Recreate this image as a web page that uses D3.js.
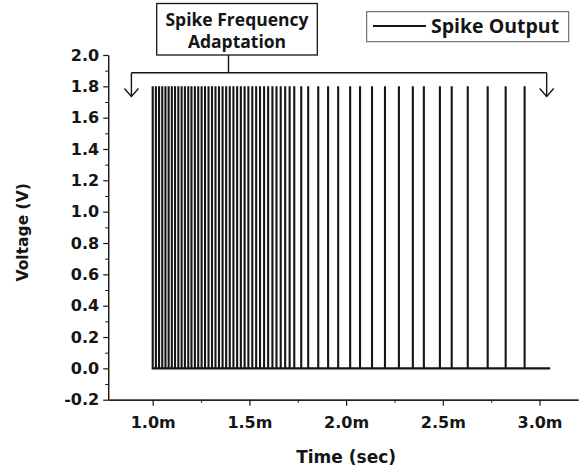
<!DOCTYPE html>
<html><head><meta charset="utf-8">
<script src="https://cdn.jsdelivr.net/npm/d3@7"></script>
<style>body{margin:0;background:#fff}svg{display:block}</style>
</head><body>
<svg id="c" width="582" height="469"></svg>
<script>
// Spike times (ms)
const spikeTimes = [1.000,1.0165,1.033,1.0495,1.066,1.0825,1.099,1.1155,1.1325,1.1495,1.1665,1.184,1.2005,1.218,1.2356,1.253,1.2706,1.2887,1.3067,1.3247,1.3428,1.3613,1.3799,1.3985,1.4175,1.4366,1.4557,1.4753,1.4948,1.515,1.535,1.555,1.576,1.597,1.619,1.640,1.662,1.685,1.708,1.732,1.768,1.804,1.856,1.907,1.959,2.021,2.072,2.134,2.201,2.273,2.345,2.402,2.485,2.546,2.629,2.732,2.825,2.923];
const spikeHigh = 1.8;
const restLevel = 0.0;
const traceStart = 1.0, traceEnd = 3.055;
const xTicks = [1.0,1.5,2.0,2.5,3.0];
const xMinor = [1.25,1.75,2.25,2.75];
const yTicks = [-0.2,0.0,0.2,0.4,0.6,0.8,1.0,1.2,1.4,1.6,1.8,2.0];
const yMinor = [-0.1,0.1,0.3,0.5,0.7,0.9,1.1,1.3,1.5,1.7,1.9];
const legendLabel = "Spike Output";
const annotationLines = ["Spike Frequency","Adaptation"];
const bracket = {x0:0.89, x1:3.037, yBar:1.887, yTip:1.735};

const svg = d3.select("#c");
const x = d3.scaleLinear().domain([0.77,3.2]).range([108.2,578.2]);
const y = d3.scaleLinear().domain([-0.2,2.0]).range([399.7,55]);
const ink = "#151515";
const font = "'DejaVu Sans', sans-serif";

// trace
const pts = [[traceStart,restLevel]];
spikeTimes.forEach(t=>{pts.push([t,restLevel],[t,spikeHigh],[t,restLevel]);});
pts.push([traceEnd,restLevel]);
svg.append("path").datum(pts)
  .attr("d", d3.line().x(d=>x(d[0])).y(d=>y(d[1])))
  .attr("fill","none").attr("stroke",ink).attr("stroke-width",2.1);

// y axis
const ya = svg.append("g").attr("transform",`translate(${x(0.77)},0)`)
  .call(d3.axisLeft(y).tickValues(yTicks).tickFormat(d=>d.toFixed(1)).tickSize(5).tickSizeOuter(0));
ya.selectAll("path,line").attr("stroke",ink).attr("stroke-width",1.2);
ya.selectAll("text").attr("font-family",font).attr("font-weight","bold").attr("font-size",16).attr("fill",ink).attr("dx","-1");
svg.append("g").attr("transform",`translate(${x(0.77)},0)`)
  .call(d3.axisLeft(y).tickValues(yMinor).tickFormat("").tickSize(3).tickSizeOuter(0))
  .selectAll("path,line").attr("stroke",ink).attr("stroke-width",1);

// x axis
const xa = svg.append("g").attr("transform",`translate(0,${y(-0.2)})`)
  .call(d3.axisBottom(x).tickValues(xTicks).tickFormat(d=>d.toFixed(1)+"m").tickSize(6).tickSizeOuter(0));
xa.selectAll("path,line").attr("stroke",ink).attr("stroke-width",1.2);
xa.selectAll("text").attr("font-family",font).attr("font-weight","bold").attr("font-size",16).attr("fill",ink).attr("dy","1.2em");
svg.append("g").attr("transform",`translate(0,${y(-0.2)})`)
  .call(d3.axisBottom(x).tickValues(xMinor).tickFormat("").tickSize(3).tickSizeOuter(0))
  .selectAll("path,line").attr("stroke",ink).attr("stroke-width",1);

// axis titles
svg.append("text").attr("x",(x(1.0)+x(3.0))/2).attr("y",463)
  .attr("text-anchor","middle").attr("font-family",font).attr("font-weight","bold").attr("font-size",17).attr("fill",ink).text("Time (sec)");
svg.append("text").attr("transform",`translate(28,${(y(-0.2)+y(2.0))/2+5}) rotate(-90)`)
  .attr("text-anchor","middle").attr("font-family",font).attr("font-weight","bold").attr("font-size",15.5).attr("fill",ink).text("Voltage (V)");

// annotation box
const bx0=156.7, by0=3.5, bw=160.6, bh=51.5;
svg.append("rect").attr("x",bx0).attr("y",by0).attr("width",bw).attr("height",bh)
  .attr("fill","#fff").attr("stroke",ink).attr("stroke-width",1.3);
annotationLines.forEach((s,i)=>{
  svg.append("text").attr("x",bx0+bw/2).attr("y",by0+22+i*22).attr("text-anchor","middle")
    .attr("font-family","'Open Sans', sans-serif").attr("font-weight","bold").attr("font-size",17.5).attr("fill",ink).text(s);
});
// bracket
const cx = 228.5;
const br = svg.append("g").attr("stroke",ink).attr("stroke-width",1.4).attr("fill","none");
br.append("line").attr("x1",cx).attr("x2",cx).attr("y1",by0+bh).attr("y2",y(bracket.yBar));
br.append("line").attr("x1",x(bracket.x0)).attr("x2",x(bracket.x1)).attr("y1",y(bracket.yBar)).attr("y2",y(bracket.yBar));
[bracket.x0,bracket.x1].forEach(t=>{
  const xx=x(t);
  br.append("line").attr("x1",xx).attr("x2",xx).attr("y1",y(bracket.yBar)).attr("y2",y(bracket.yTip));
  br.append("path").attr("d",`M${xx-7},${y(bracket.yTip)-8}L${xx},${y(bracket.yTip)}L${xx+7},${y(bracket.yTip)-8}`);
});

// legend
svg.append("rect").attr("x",366.7).attr("y",11.7).attr("width",202).attr("height",30)
  .attr("fill","#fff").attr("stroke","#555").attr("stroke-width",1);
svg.append("line").attr("x1",373).attr("x2",426).attr("y1",26).attr("y2",26).attr("stroke",ink).attr("stroke-width",2);
svg.append("text").attr("x",431).attr("y",33).attr("font-family","'Open Sans', sans-serif").attr("font-weight","bold")
  .attr("font-size",19.5).attr("fill",ink).text(legendLabel);
</script>
</body></html>
